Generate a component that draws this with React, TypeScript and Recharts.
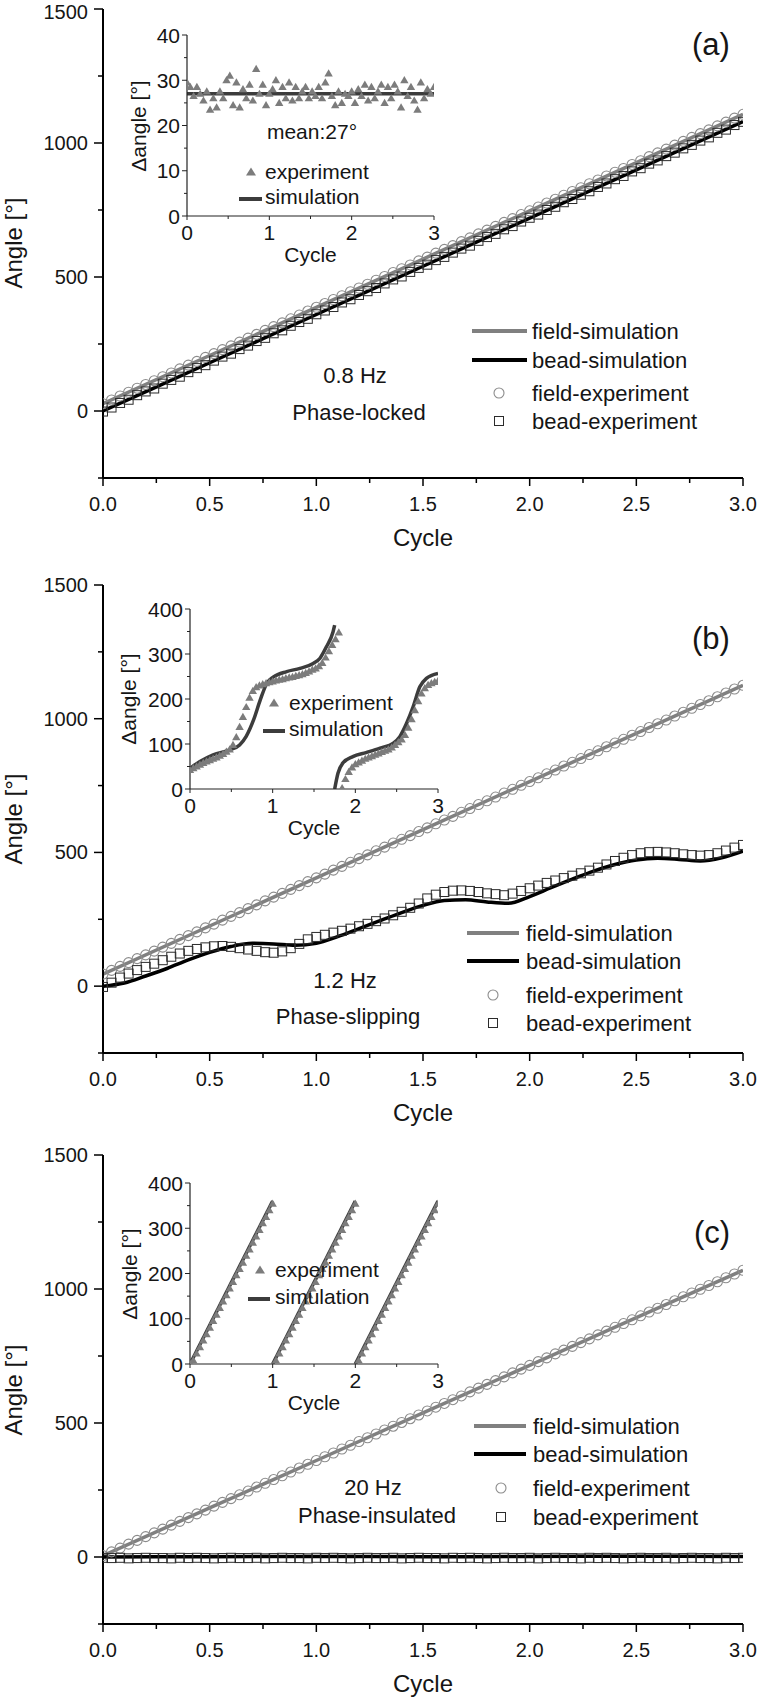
import React from 'react';
import { ComposedChart, Line, Scatter, XAxis, YAxis } from 'recharts';

const FONT = '"Liberation Sans", Arial, Helvetica, sans-serif';

// ---------------- data ----------------
const CYCLE = [0, 0.04, 0.08, 0.12, 0.16, 0.2, 0.24, 0.28, 0.32, 0.36, 0.4, 0.44, 0.48, 0.52, 0.56, 0.6, 0.64, 0.68, 0.72, 0.76, 0.8, 0.84, 0.88, 0.92, 0.96, 1, 1.04, 1.08, 1.12, 1.16, 1.2, 1.24, 1.28, 1.32, 1.36, 1.4, 1.44, 1.48, 1.52, 1.56, 1.6, 1.64, 1.68, 1.72, 1.76, 1.8, 1.84, 1.88, 1.92, 1.96, 2, 2.04, 2.08, 2.12, 2.16, 2.2, 2.24, 2.28, 2.32, 2.36, 2.4, 2.44, 2.48, 2.52, 2.56, 2.6, 2.64, 2.68, 2.72, 2.76, 2.8, 2.84, 2.88, 2.92, 2.96, 3];
const SIM_CYCLE = [0, 0.5, 1, 1.5, 2, 2.5, 3];
const BEAD_SIM_B_CYCLE = [0, 0.1, 0.2, 0.3, 0.4, 0.5, 0.6, 0.7, 0.8, 0.9, 1, 1.1, 1.2, 1.3, 1.4, 1.5, 1.6, 1.7, 1.8, 1.9, 2, 2.1, 2.2, 2.3, 2.4, 2.5, 2.6, 2.7, 2.8, 2.9, 3];

const MAIN_X_TICKS = [0, 0.25, 0.5, 0.75, 1, 1.25, 1.5, 1.75, 2, 2.25, 2.5, 2.75, 3];
const MAIN_X_MAJOR = [0, 0.5, 1, 1.5, 2, 2.5, 3];
const MAIN_Y_TICKS = [-250, 0, 250, 500, 750, 1000, 1250, 1500];
const MAIN_Y_MAJOR = [0, 500, 1000, 1500];
const INSET_X_TICKS = [0, 0.5, 1, 1.5, 2, 2.5, 3];
const INSET_X_MAJOR = [0, 1, 2, 3];
const INSET_A_Y_TICKS = [0, 5, 10, 15, 20, 25, 30, 35, 40];
const INSET_A_Y_MAJOR = [0, 10, 20, 30, 40];
const INSET_BC_Y_TICKS = [0, 50, 100, 150, 200, 250, 300, 350, 400];
const INSET_BC_Y_MAJOR = [0, 100, 200, 300, 400];

// panel (a) 0.8 Hz
const A_FIELD_SIM = [27, 207, 387, 567, 747, 927, 1107];
const A_BEAD_SIM = [0, 180, 360, 540, 720, 900, 1080];
const A_FIELD_EXP = [27, 41, 56, 70, 85, 99, 113, 128, 142, 157, 171, 185, 200, 214, 229, 243, 257, 272, 286, 301, 315, 329, 344, 358, 373, 387, 401, 416, 430, 445, 459, 473, 488, 502, 517, 531, 545, 560, 574, 589, 603, 617, 632, 646, 661, 675, 689, 704, 718, 733, 747, 761, 776, 790, 805, 819, 833, 848, 862, 877, 891, 905, 920, 934, 949, 963, 977, 992, 1006, 1021, 1035, 1049, 1064, 1078, 1093, 1107];
const A_BEAD_EXP = [-2, 13, 30, 42, 59, 73, 84, 102, 116, 128, 145, 160, 171, 188, 203, 214, 231, 244, 261, 273, 290, 301, 318, 332, 344, 361, 375, 388, 405, 417, 433, 447, 459, 476, 491, 502, 519, 534, 546, 563, 575, 591, 606, 617, 635, 649, 661, 678, 690, 707, 721, 733, 750, 762, 779, 791, 807, 820, 836, 849, 865, 877, 894, 906, 923, 935, 951, 964, 980, 993, 1009, 1021, 1038, 1050, 1067, 1079];
const A_INSET_SIM_CYCLE = [0, 3];
const A_INSET_SIM = [27, 27];
const A_INSET_EXP = [29.5, 28.5, 26.5, 28.5, 27, 25.5, 27.5, 23.5, 26, 24, 27.5, 26, 30, 31, 24.5, 29.5, 24, 28, 26, 29, 25.5, 32.5, 27, 29, 24.5, 27, 28, 30, 25, 28.5, 26, 29.5, 25.5, 28.5, 26, 27.5, 28.5, 26, 27.5, 26.5, 28.5, 26, 29.5, 31.5, 26.5, 24.5, 27.5, 25, 27, 26.5, 27.5, 25, 28, 26.5, 29, 25.5, 28.5, 26, 27.5, 29, 25, 28.5, 26, 29, 27.5, 24, 30, 26.5, 28.5, 25.5, 23.5, 29.5, 26, 28, 27, 28.5];

// panel (b) 1.2 Hz
const B_FIELD_SIM = [45, 225, 405, 585, 765, 945, 1125];
const B_BEAD_SIM = [0, 12, 38, 66, 98, 126, 148, 160, 158, 153, 160, 185, 215, 245, 275, 302, 320, 323, 315, 310, 335, 368, 400, 430, 455, 472, 478, 474, 468, 480, 505];
const B_FIELD_EXP = [45, 59, 74, 88, 103, 117, 131, 146, 160, 175, 189, 203, 218, 232, 247, 261, 275, 290, 304, 319, 333, 347, 362, 376, 391, 405, 419, 434, 448, 463, 477, 491, 506, 520, 535, 549, 563, 578, 592, 607, 621, 635, 650, 664, 679, 693, 707, 722, 736, 751, 765, 779, 794, 808, 823, 837, 851, 866, 880, 895, 909, 923, 938, 952, 967, 981, 995, 1010, 1024, 1039, 1053, 1067, 1082, 1096, 1111, 1125];
const B_BEAD_EXP = [-3, 13, 32, 47, 60, 72, 84, 97, 110, 122, 132, 139, 145, 149, 150, 147, 142, 137, 132, 127, 125, 130, 142, 158, 175, 184, 192, 200, 207, 215, 224, 233, 243, 253, 265, 278, 293, 309, 328, 342, 352, 357, 358, 356, 352, 347, 344, 340, 346, 356, 366, 376, 386, 395, 404, 413, 422, 432, 443, 455, 468, 480, 490, 497, 501, 502, 500, 497, 493, 490, 488, 490, 497, 507, 518, 528];
const B_INSET_SIM1_CYCLE = [0, 0.12, 0.28, 0.48, 0.6, 0.68, 0.77, 0.85, 0.93, 1.01, 1.17, 1.33, 1.49, 1.57, 1.65, 1.73, 1.75];
const B_INSET_SIM1 = [46, 61, 76, 87, 98, 117, 154, 198, 235, 249, 261, 268, 279, 290, 316, 349, 364];
const B_INSET_SIM2_CYCLE = [1.75, 1.79, 1.85, 1.97, 2.13, 2.3, 2.46, 2.54, 2.62, 2.7, 2.78, 2.86, 3];
const B_INSET_SIM2 = [0, 35, 58, 72, 81, 91, 102, 117, 146, 183, 227, 246, 257];
const B_INSET_EXP = [42, 46, 50, 54, 58, 61, 64, 67, 70, 74, 78, 83, 88, 98, 115, 138, 160, 182, 203, 218, 226, 230, 233, 235, 237, 239, 241, 243, 244, 246, 248, 249, 251, 253, 255, 258, 261, 265, 268, 273, 280, 292, 306, 320, 333, 348, 2, 22, 38, 48, 55, 59, 63, 67, 70, 73, 76, 79, 82, 85, 88, 92, 98, 104, 110, 120, 136, 155, 175, 195, 212, 224, 231, 235, 238, 240];

// panel (c) 20 Hz
const C_FIELD_SIM = [5, 183, 360, 538, 715, 893, 1070];
const C_BEAD_SIM = [0, 1, 2, 1, 2, 3, 2];
const C_FIELD_EXP = [5, 19, 33, 48, 62, 76, 90, 104, 119, 133, 147, 161, 175, 190, 204, 218, 232, 246, 261, 275, 289, 303, 317, 332, 346, 360, 374, 388, 403, 417, 431, 445, 459, 474, 488, 502, 516, 530, 545, 559, 573, 587, 601, 616, 630, 644, 658, 672, 687, 701, 715, 729, 743, 758, 772, 786, 800, 814, 829, 843, 857, 871, 885, 900, 914, 928, 942, 956, 971, 985, 999, 1013, 1027, 1042, 1056, 1070];
const C_BEAD_EXP = [-3, -4, -3, -5, -4, -3, -4, -4, -5, -3, -4, -3, -4, -5, -4, -3, -4, -4, -3, -5, -4, -3, -4, -4, -5, -3, -4, -3, -4, -5, -4, -3, -4, -4, -3, -5, -4, -3, -4, -4, -5, -3, -4, -3, -4, -5, -4, -3, -4, -4, -3, -5, -4, -3, -4, -4, -5, -3, -4, -3, -4, -5, -4, -3, -4, -4, -3, -5, -4, -3, -4, -4, -5, -3, -4, -3];
const C_INSET_SIM1_CYCLE = [0, 1];
const C_INSET_SIM2_CYCLE = [1, 2];
const C_INSET_SIM3_CYCLE = [2, 3];
const C_INSET_SIM = [0, 360];
const C_INSET_EXP = [1, 8, 23, 37, 52, 66, 80, 95, 109, 124, 138, 152, 167, 181, 196, 210, 224, 239, 253, 268, 282, 296, 311, 325, 340, 354, 8, 23, 37, 52, 66, 80, 95, 109, 124, 138, 152, 167, 181, 196, 210, 224, 239, 253, 268, 282, 296, 311, 325, 340, 354, 8, 23, 37, 52, 66, 80, 95, 109, 124, 138, 152, 167, 181, 196, 210, 224, 239, 253, 268, 282, 296, 311, 325, 340, 354];

// ---------------- helpers ----------------
type XY = { x: number; y: number };
const zip = (xs: number[], ys: number[]): XY[] => xs.map((x, i) => ({ x, y: ys[i] }));

const FIELD_GRAY = '#808080';
const TRI_GRAY = '#7c7c7c';
const INSET_LINE = '#3c3c3c';

const circleShape = (p: any) => (
  <circle cx={p.cx} cy={p.cy} r={5} fill="none" stroke="#8c8c8c" strokeWidth={1.1} />
);
const squareShape = (p: any) => (
  <rect x={p.cx - 4.5} y={p.cy - 4.5} width={9} height={9} fill="none" stroke="#2b2b2b" strokeWidth={1} />
);
const triShape = (p: any) => (
  <polygon
    points={`${p.cx},${p.cy - 4.2} ${p.cx - 4.2},${p.cy + 3} ${p.cx + 4.2},${p.cy + 3}`}
    fill={TRI_GRAY}
  />
);

type Side = 'bottom' | 'top' | 'left' | 'right';
function makeTick(
  side: Side,
  majors: number[],
  majorLen: number,
  minorLen: number,
  opts: { fmt?: (v: number) => string; size?: number; dx?: number; dy?: number; sw?: number; stroke?: string; minY?: number } = {}
) {
  return (p: any) => {
    const v = Number(p.payload?.value);
    const isMajor = majors.some((m) => Math.abs(m - v) < 1e-9);
    const len = isMajor ? majorLen : minorLen;
    const { x, y } = p;
    const st = { stroke: opts.stroke ?? '#000', strokeWidth: opts.sw ?? 1.5 };
    const ln =
      side === 'bottom' || side === 'top' ? (
        <line x1={x} x2={x} y1={y} y2={y + len} {...st} />
      ) : (
        <line x1={x - len} x2={x} y1={y} y2={y} {...st} />
      );
    let label: React.ReactNode = null;
    if (isMajor && opts.fmt) {
      if (side === 'bottom') {
        label = (
          <text x={x} y={y + (opts.dy ?? 0)} textAnchor="middle" fontSize={opts.size} fontFamily={FONT} fill="#151515">
            {opts.fmt(v)}
          </text>
        );
      } else if (side === 'left') {
        const ly = Math.max(y + (opts.dy ?? 0), opts.minY ?? -1e9);
        label = (
          <text x={x - (opts.dx ?? 0)} y={ly} textAnchor="end" fontSize={opts.size} fontFamily={FONT} fill="#151515">
            {opts.fmt(v)}
          </text>
        );
      }
    }
    return (
      <g>
        {ln}
        {label}
      </g>
    );
  };
}

const mainBottomTick = makeTick('bottom', MAIN_X_MAJOR, 8, 5, { fmt: (v) => v.toFixed(1), size: 20, dy: 33 });
const mainTopTick = makeTick('top', MAIN_X_MAJOR, 7, 7);
const mainLeftTick = makeTick('left', MAIN_Y_MAJOR, 9, 5, { fmt: (v) => String(v), size: 20, dx: 15, dy: 7, minY: 19 });
const mainRightTick = makeTick('right', MAIN_Y_MAJOR, 7, 7);

const insetOpts = { sw: 1, stroke: '#222' };
const insetBottomTick = makeTick('bottom', INSET_X_MAJOR, 4, 3, { ...insetOpts, fmt: (v) => String(v), size: 21, dy: 24 });
const insetTopTick = makeTick('top', INSET_X_MAJOR, 4, 3, insetOpts);
const insetLeftTick = makeTick('left', INSET_BC_Y_MAJOR.concat(INSET_A_Y_MAJOR), 5, 3, { ...insetOpts, fmt: (v) => String(v), size: 21, dx: 7, dy: 7.5 });
const insetRightTick = makeTick('right', INSET_BC_Y_MAJOR.concat(INSET_A_Y_MAJOR), 5, 3, insetOpts);

type Layout = { chartTop: number; chartHeight: number; plotTop: number; plotBottom: number };
const LAYOUT_A: Layout = { chartTop: 0, chartHeight: 570, plotTop: 9, plotBottom: 478 };
const LAYOUT_B: Layout = { chartTop: 570, chartHeight: 570, plotTop: 585, plotBottom: 1053 };
const LAYOUT_C: Layout = { chartTop: 1140, chartHeight: 561, plotTop: 1155, plotBottom: 1624 };

const frameLine = { stroke: '#000', strokeWidth: 2 };

function MainPanel(props: {
  layout: Layout;
  fieldSim: XY[];
  beadSim: XY[];
  fieldExp: XY[];
  beadExp: XY[];
}) {
  const { layout, fieldSim, beadSim, fieldExp, beadExp } = props;
  const { chartTop, chartHeight, plotTop, plotBottom } = layout;
  return (
    <div style={{ position: 'absolute', left: 0, top: chartTop, width: 760, height: chartHeight }}>
      <ComposedChart
        width={760}
        height={chartHeight}
        margin={{ top: plotTop - chartTop, right: 17, bottom: 0, left: 0 }}
      >
        <XAxis
          xAxisId="x"
          type="number"
          dataKey="x"
          domain={[0, 3]}
          ticks={MAIN_X_TICKS}
          interval={0}
          allowDataOverflow
          orientation="bottom"
          height={chartTop + chartHeight - plotBottom}
          tickLine={false}
          tickSize={0}
          tickMargin={0}
          axisLine={frameLine}
          tick={mainBottomTick}
        />
        <XAxis
          xAxisId="xt"
          type="number"
          dataKey="x"
          domain={[0, 3]}
          ticks={MAIN_X_TICKS}
          interval={0}
          allowDataOverflow
          orientation="top"
          height={0}
          tickLine={false}
          tickSize={0}
          tickMargin={0}
          axisLine={frameLine}
          tick={mainTopTick}
        />
        <YAxis
          yAxisId="y"
          type="number"
          dataKey="y"
          domain={[-250, 1500]}
          ticks={MAIN_Y_TICKS}
          interval={0}
          allowDataOverflow
          width={103}
          tickLine={false}
          tickSize={0}
          tickMargin={0}
          axisLine={frameLine}
          tick={mainLeftTick}
        />
        <YAxis
          yAxisId="yr"
          orientation="right"
          type="number"
          dataKey="y"
          domain={[-250, 1500]}
          ticks={MAIN_Y_TICKS}
          interval={0}
          allowDataOverflow
          width={0}
          tickLine={false}
          tickSize={0}
          tickMargin={0}
          axisLine={frameLine}
          tick={mainRightTick}
        />
        <Scatter xAxisId="x" yAxisId="y" data={fieldExp} dataKey="y" shape={circleShape} isAnimationActive={false} />
        <Scatter xAxisId="x" yAxisId="y" data={beadExp} dataKey="y" shape={squareShape} isAnimationActive={false} />
        <Line xAxisId="x" yAxisId="y" data={fieldSim} dataKey="y" type="linear" dot={false} stroke={FIELD_GRAY} strokeWidth={3.5} isAnimationActive={false} />
        <Line xAxisId="x" yAxisId="y" data={beadSim} dataKey="y" type="monotone" dot={false} stroke="#000" strokeWidth={3.5} isAnimationActive={false} />
      </ComposedChart>
    </div>
  );
}

type Frame = { L: number; R: number; T: number; B: number };
const INSET_A: Frame = { L: 187, R: 434, T: 35, B: 216 };
const INSET_B: Frame = { L: 190, R: 438, T: 609, B: 789 };
const INSET_C: Frame = { L: 190, R: 438, T: 1183, B: 1364 };

const insetFrameLine = { stroke: '#222', strokeWidth: 1.2 };

function InsetChart(props: {
  frame: Frame;
  yMax: number;
  yTicks: number[];
  exp: XY[];
  sims: XY[][];
  simType: 'linear' | 'monotone';
}) {
  const { frame, yMax, yTicks, exp, sims, simType } = props;
  const left = frame.L - 80;
  const top = frame.T - 12;
  const width = frame.R - frame.L + 92;
  const height = frame.B - frame.T + 68;
  return (
    <div style={{ position: 'absolute', left, top, width, height }}>
      <ComposedChart width={width} height={height} margin={{ top: 12, right: 12, bottom: 0, left: 0 }}>
        <XAxis xAxisId="x" type="number" dataKey="x" domain={[0, 3]} ticks={INSET_X_TICKS} interval={0} allowDataOverflow orientation="bottom" height={56} tickLine={false} tickSize={0} tickMargin={0} axisLine={insetFrameLine} tick={insetBottomTick} />
        <XAxis xAxisId="xt" type="number" dataKey="x" domain={[0, 3]} ticks={INSET_X_TICKS} interval={0} allowDataOverflow orientation="top" height={0} tickLine={false} tickSize={0} tickMargin={0} axisLine={insetFrameLine} tick={insetTopTick} />
        <YAxis yAxisId="y" type="number" dataKey="y" domain={[0, yMax]} ticks={yTicks} interval={0} allowDataOverflow width={80} tickLine={false} tickSize={0} tickMargin={0} axisLine={insetFrameLine} tick={insetLeftTick} />
        <YAxis yAxisId="yr" orientation="right" type="number" dataKey="y" domain={[0, yMax]} ticks={yTicks} interval={0} allowDataOverflow width={0} tickLine={false} tickSize={0} tickMargin={0} axisLine={insetFrameLine} tick={insetRightTick} />
        <Scatter xAxisId="x" yAxisId="y" data={exp} dataKey="y" shape={triShape} isAnimationActive={false} />
        {sims.map((s, i) => (
          <Line key={i} xAxisId="x" yAxisId="y" data={s} dataKey="y" type={simType} dot={false} stroke={INSET_LINE} strokeWidth={3.5} isAnimationActive={false} />
        ))}
      </ComposedChart>
    </div>
  );
}

// ---------------- annotations ----------------
function MainLegend(p: { x1: number; x2: number; mx: number; tx: number; rows: number[] }) {
  const [r1, r2, r3, r4] = p.rows;
  const ts = { fontSize: 22, fontFamily: FONT, fill: '#151515' };
  return (
    <g>
      <line x1={p.x1} x2={p.x2} y1={r1} y2={r1} stroke={FIELD_GRAY} strokeWidth={4} />
      <text x={p.tx} y={r1 + 8} {...ts}>field-simulation</text>
      <line x1={p.x1} x2={p.x2} y1={r2} y2={r2} stroke="#000" strokeWidth={4} />
      <text x={p.tx} y={r2 + 8} {...ts}>bead-simulation</text>
      <circle cx={p.mx} cy={r3} r={5} fill="none" stroke="#8c8c8c" strokeWidth={1.1} />
      <text x={p.tx} y={r3 + 8} {...ts}>field-experiment</text>
      <rect x={p.mx - 4.5} y={r4 - 4.5} width={9} height={9} fill="none" stroke="#2b2b2b" strokeWidth={1} />
      <text x={p.tx} y={r4 + 8} {...ts}>bead-experiment</text>
    </g>
  );
}

function InsetLegend(p: { mx: number; ty1: number; lx1: number; lx2: number; ly: number; tx: number }) {
  const ts = { fontSize: 21, fontFamily: FONT, fill: '#151515' };
  const cx = p.mx;
  const cy = p.ty1;
  return (
    <g>
      <polygon points={`${cx},${cy - 4.5} ${cx - 5},${cy + 3.5} ${cx + 5},${cy + 3.5}`} fill={TRI_GRAY} />
      <text x={p.tx} y={p.ty1 + 7} {...ts}>experiment</text>
      <line x1={p.lx1} x2={p.lx2} y1={p.ly} y2={p.ly} stroke={INSET_LINE} strokeWidth={4} />
      <text x={p.tx} y={p.ly + 5} {...ts}>simulation</text>
    </g>
  );
}

function Overlay() {
  const t20 = { fontFamily: FONT, fill: '#151515' };
  const angleTitle = (cy: number) => (
    <text x={22} y={cy} transform={`rotate(-90 22 ${cy})`} textAnchor="middle" fontSize={24} {...t20}>
      Angle [°]
    </text>
  );
  const cycleTitle = (y: number) => (
    <text x={423} y={y} textAnchor="middle" fontSize={24} {...t20}>Cycle</text>
  );
  const insetY = (x: number, cy: number) => (
    <text x={x} y={cy} transform={`rotate(-90 ${x} ${cy})`} textAnchor="middle" fontSize={21} {...t20}>
      Δangle [°]
    </text>
  );
  const insetX = (f: Frame) => (
    <text x={(f.L + f.R) / 2} y={f.B + 46} textAnchor="middle" fontSize={21} {...t20}>Cycle</text>
  );
  const ts22 = { fontSize: 22, textAnchor: 'middle' as const, ...t20 };
  return (
    <svg width={760} height={1701} style={{ position: 'absolute', left: 0, top: 0, pointerEvents: 'none' }}>
      {/* panel a */}
      {angleTitle(243)}
      {cycleTitle(546)}
      <text x={711} y={55} textAnchor="middle" fontSize={31} {...t20}>(a)</text>
      <MainLegend x1={472} x2={527} mx={499} tx={532} rows={[331, 360, 393, 421]} />
      <text x={355} y={383} {...ts22}>0.8 Hz</text>
      <text x={359} y={420} {...ts22}>Phase-locked</text>
      {insetY(146, 126)}
      {insetX(INSET_A)}
      <text x={312} y={139} textAnchor="middle" fontSize={21} {...t20}>mean:27°</text>
      <InsetLegend mx={251} ty1={172} lx1={239} lx2={262} ly={199} tx={265} />

      {/* panel b */}
      {angleTitle(819)}
      {cycleTitle(1121)}
      <text x={711} y={649} textAnchor="middle" fontSize={31} {...t20}>(b)</text>
      <MainLegend x1={467} x2={519} mx={493} tx={526} rows={[933, 961, 995, 1023]} />
      <text x={345} y={988} {...ts22}>1.2 Hz</text>
      <text x={348} y={1024} {...ts22}>Phase-slipping</text>
      {insetY(136, 699)}
      {insetX(INSET_B)}
      <InsetLegend mx={274} ty1={703} lx1={263} lx2={285} ly={731} tx={289} />

      {/* panel c */}
      {angleTitle(1390)}
      {cycleTitle(1692)}
      <text x={712} y={1243} textAnchor="middle" fontSize={31} {...t20}>(c)</text>
      <MainLegend x1={474} x2={526} mx={501} tx={533} rows={[1426, 1454, 1488, 1517]} />
      <text x={373} y={1495} {...ts22}>20 Hz</text>
      <text x={377} y={1523} {...ts22}>Phase-insulated</text>
      {insetY(137, 1274)}
      {insetX(INSET_C)}
      <InsetLegend mx={260} ty1={1270} lx1={248} lx2={270} ly={1299} tx={275} />
    </svg>
  );
}

export default function App() {
  return (
    <div style={{ position: 'absolute', left: 0, top: 0, width: 760, height: 1701, background: '#fff', fontFamily: FONT }}>
      <MainPanel
        layout={LAYOUT_A}
        fieldSim={zip(SIM_CYCLE, A_FIELD_SIM)}
        beadSim={zip(SIM_CYCLE, A_BEAD_SIM)}
        fieldExp={zip(CYCLE, A_FIELD_EXP)}
        beadExp={zip(CYCLE, A_BEAD_EXP)}
      />
      <MainPanel
        layout={LAYOUT_B}
        fieldSim={zip(SIM_CYCLE, B_FIELD_SIM)}
        beadSim={zip(BEAD_SIM_B_CYCLE, B_BEAD_SIM)}
        fieldExp={zip(CYCLE, B_FIELD_EXP)}
        beadExp={zip(CYCLE, B_BEAD_EXP)}
      />
      <MainPanel
        layout={LAYOUT_C}
        fieldSim={zip(SIM_CYCLE, C_FIELD_SIM)}
        beadSim={zip(SIM_CYCLE, C_BEAD_SIM)}
        fieldExp={zip(CYCLE, C_FIELD_EXP)}
        beadExp={zip(CYCLE, C_BEAD_EXP)}
      />
      <InsetChart
        frame={INSET_A}
        yMax={40}
        yTicks={INSET_A_Y_TICKS}
        exp={zip(CYCLE, A_INSET_EXP)}
        sims={[zip(A_INSET_SIM_CYCLE, A_INSET_SIM)]}
        simType="linear"
      />
      <InsetChart
        frame={INSET_B}
        yMax={400}
        yTicks={INSET_BC_Y_TICKS}
        exp={zip(CYCLE, B_INSET_EXP)}
        sims={[zip(B_INSET_SIM1_CYCLE, B_INSET_SIM1), zip(B_INSET_SIM2_CYCLE, B_INSET_SIM2)]}
        simType="monotone"
      />
      <InsetChart
        frame={INSET_C}
        yMax={400}
        yTicks={INSET_BC_Y_TICKS}
        exp={zip(CYCLE, C_INSET_EXP)}
        sims={[zip(C_INSET_SIM1_CYCLE, C_INSET_SIM), zip(C_INSET_SIM2_CYCLE, C_INSET_SIM), zip(C_INSET_SIM3_CYCLE, C_INSET_SIM)]}
        simType="linear"
      />
      <Overlay />
    </div>
  );
}
